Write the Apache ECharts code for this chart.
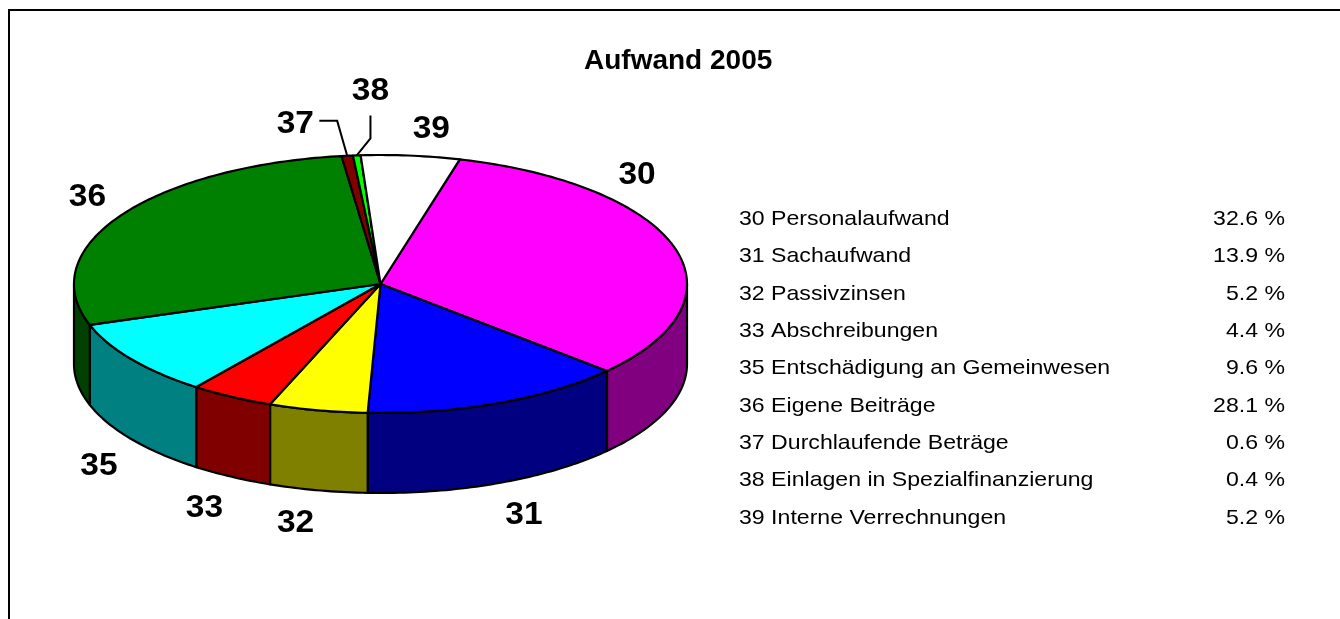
<!DOCTYPE html>
<html><head><meta charset="utf-8">
<script src="https://cdn.jsdelivr.net/npm/echarts@6/dist/echarts.min.js"></script>
<style>html,body{margin:0;padding:0;background:#fff}#c{width:1340px;height:619px}</style>
</head><body><div id="c"></div>
<script>
// ---- data ----
const chartTitle = 'Aufwand 2005';
const categories = ['30', '31', '32', '33', '35', '36', '37', '38', '39'];
const names = ['Personalaufwand', 'Sachaufwand', 'Passivzinsen', 'Abschreibungen',
  'Entschädigung an Gemeinwesen', 'Eigene Beiträge', 'Durchlaufende Beträge',
  'Einlagen in Spezialfinanzierung', 'Interne Verrechnungen'];
const shares = [32.6, 13.9, 5.2, 4.4, 9.6, 28.1, 0.6, 0.4, 5.2];

// ---- styles / layout ----
const topColors = ['#FF00FF', '#0000FF', '#FFFF00', '#FF0000', '#00FFFF', '#008000', '#800000', '#00FF00', '#FFFFFF'];
const sideColors = ['#800080', '#000080', '#808000', '#800000', '#008080', '#004000', '#400000', '#008000', '#808080'];
const PIE = { cx: 380.5, cy: 284, rx: 306.5, ry: 129, depth: 80, startDeg: 15, lw: 2.2 };
const LBL = { font: 'bold 31px "Liberation Sans", Arial, sans-serif', scaleX: 1.08, hw: 19, hh: 13, gap: 17, maxRight: 656, textDy: 4 };
const labelShift = { '37': [-31, -5], '38': [34, -38] };   // manually moved labels (with leader lines)
const LEG = { x: 739, xr: 1285, y0: 219, step: 37.37, font: '21px "Liberation Sans", Arial, sans-serif', scaleX: 1.1 };

const total = shares.reduce((s, v) => s + v, 0);
const seriesData = [];
let acc = 0;
shares.forEach((v, i) => { seriesData.push([i, v, acc]); acc += v; });

function pt(deg, dy) {
  const r = deg * Math.PI / 180;
  return [PIE.cx + PIE.rx * Math.sin(r), PIE.cy - PIE.ry * Math.cos(r) + (dy || 0)];
}
function arc(a, b, dy) {
  const n = Math.max(2, Math.ceil(Math.abs(b - a)));
  const out = [];
  for (let k = 0; k <= n; k++) out.push(pt(a + (b - a) * k / n, dy));
  return out;
}
function labelPos(mid) {
  let th = mid;
  const calc = (t) => {
    const r = t * Math.PI / 180, s = Math.sin(r), c = Math.cos(r);
    let n = ((t % 360) + 360) % 360;
    const front = (n > 90 && n < 270) ? PIE.depth : 0;
    const x = PIE.cx + PIE.rx * s + Math.sign(s) * LBL.hw + LBL.gap * s;
    const y = PIE.cy - PIE.ry * c + front - Math.sign(c) * LBL.hh - LBL.gap * c;
    return [x, y];
  };
  let p = calc(th);
  if (p[0] + LBL.hw > LBL.maxRight) {
    const s = (LBL.maxRight - LBL.hw - LBL.hw - PIE.cx) / (PIE.rx + LBL.gap);
    th = Math.asin(Math.min(1, s)) * 180 / Math.PI;
    p = calc(th);
  }
  return p;
}

const chart = echarts.init(document.getElementById('c'), null, { renderer: 'canvas' });

const option = {
  backgroundColor: '#fff',
  animation: false,
  title: {
    text: chartTitle, left: 584, top: 47, padding: 0,
    textStyle: { fontSize: 28, fontWeight: 'bold', fontFamily: '"Liberation Sans", Arial, sans-serif', color: '#000' }
  },
  graphic: [
    { type: 'rect', shape: { x: 9, y: 10, width: 1400, height: 700 }, style: { fill: 'none', stroke: '#000', lineWidth: 2 }, silent: true }
  ].concat(categories.map((c, i) => ({
    type: 'text', x: LEG.x, y: LEG.y0 + i * LEG.step, scaleX: LEG.scaleX,
    style: { text: c + ' ' + names[i], font: LEG.font, fill: '#000', align: 'left', verticalAlign: 'middle', textAlign: 'left', textVerticalAlign: 'middle' }
  }))).concat(shares.map((v, i) => ({
    type: 'text', x: LEG.xr, y: LEG.y0 + i * LEG.step, scaleX: LEG.scaleX,
    style: { text: v.toFixed(1) + ' %', font: LEG.font, fill: '#000', align: 'right', verticalAlign: 'middle', textAlign: 'right', textVerticalAlign: 'middle' }
  }))),
  series: [{
    type: 'custom',
    coordinateSystem: 'none',
    data: seriesData,
    renderItem: function (params, api) {
      const i = params.dataIndex;
      const v = api.value(1), cum = api.value(2);
      const a = PIE.startDeg + cum / total * 360;
      const b = a + v / total * 360;
      const children = [];
      // visible side wall (front half: 90..270 deg)
      [-360, 0, 360].forEach(k => {
        const s = Math.max(a, 90 + k), e = Math.min(b, 270 + k);
        if (e > s) {
          children.push({
            type: 'polygon',
            shape: { points: arc(s, e, 0).concat(arc(e, s, PIE.depth)) },
            style: { fill: sideColors[i], stroke: '#000', lineWidth: PIE.lw, lineJoin: 'round' }
          });
        }
      });
      // top face
      children.push({
        type: 'polygon',
        shape: { points: [[PIE.cx, PIE.cy]].concat(arc(a, b, 0)) },
        style: { fill: topColors[i], stroke: '#000', lineWidth: PIE.lw, lineJoin: 'round' }
      });
      // label
      const mid = (a + b) / 2;
      let [lx, ly] = labelPos(mid);
      const key = categories[i];
      if (labelShift[key]) {
        lx += labelShift[key][0]; ly += labelShift[key][1];
        const rim = pt(mid, 0);
        const dx = rim[0] - lx, dy = rim[1] - ly;
        let pts;
        if (Math.abs(dx) > Math.abs(dy)) {
          pts = [[lx + Math.sign(dx) * (LBL.hw + 5), ly], [rim[0] - Math.sign(dx) * 10, ly], rim];
        } else {
          pts = [[lx, ly + Math.sign(dy) * (LBL.hh + 15)], [lx, rim[1] - Math.sign(dy) * 17], rim];
        }
        children.push({ type: 'polyline', z2: 20, shape: { points: pts }, style: { stroke: '#000', lineWidth: 2, fill: null } });
      }
      children.push({
        type: 'text', x: lx, y: ly + LBL.textDy, scaleX: LBL.scaleX, z2: 30,
        style: { text: key, font: LBL.font, fill: '#000', align: 'center', verticalAlign: 'middle', textAlign: 'center', textVerticalAlign: 'middle' }
      });
      return { type: 'group', children: children };
    }
  }]
};
chart.setOption(option);
</script>
</body></html>
